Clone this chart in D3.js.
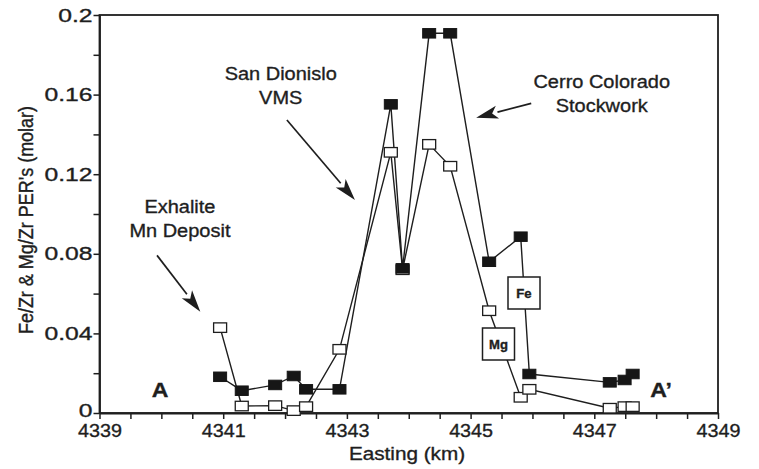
<!DOCTYPE html>
<html>
<head>
<meta charset="utf-8">
<script src="https://cdn.jsdelivr.net/npm/d3@7"></script>
<style>
  html, body { margin: 0; padding: 0; background: #fff; }
  svg { display: block; }
  text { font-family: "Liberation Sans", Arial, Helvetica, sans-serif; fill: #1e1e1e; stroke: #1e1e1e; stroke-width: 0.35px; }
</style>
</head>
<body>
<svg id="chart" width="759" height="469"></svg>
<script>
// Sample positions along the A–A' traverse (Easting, km)
const easting = [4340.95, 4341.30, 4341.84, 4342.14, 4342.34, 4342.88, 4343.71, 4343.90,
                 4344.33, 4344.67, 4345.30, 4345.81, 4345.95, 4347.25, 4347.49, 4347.62];
// Fe/Zr molar PER
const feZr = [0.0182, 0.0112, 0.0141, 0.0186, 0.0119, 0.0119, 0.1551, 0.0727,
              0.1908, 0.1908, 0.0760, 0.0886, 0.0196, 0.0154, 0.0166, 0.0196];
// Mg/Zr molar PER
const mgZr = [0.0429, 0.0035, 0.0037, 0.0012, 0.0032, 0.0320, 0.1310, 0.0720,
              0.1350, 0.1240, 0.0514, 0.0079, 0.0119, 0.0024, 0.0032, 0.0032];

const xTickLabels = [4339, 4341, 4343, 4345, 4347, 4349];
const yTickLabels = [0, 0.04, 0.08, 0.12, 0.16, 0.2];

// Annotations: text lines, anchor point and arrow (tail -> head) in data units
const notes = [
  { lines: ["Exhalite", "Mn Deposit"], at: [4340.3, 0.1005], from: [4339.93, 0.0792], to: [4340.63, 0.0509] },
  { lines: ["San Dionislo", "VMS"], at: [4341.93, 0.1673], from: [4342.03, 0.1472], to: [4343.13, 0.1070] },
  { lines: ["Cerro Colorado", "Stockwork"], at: [4347.12, 0.1633], from: [4345.98, 0.1556], to: [4345.09, 0.1484] }
];

const svg = d3.select("#chart");
const m = { left: 99.5, right: 718, top: 15, bottom: 413 };

const x = d3.scaleLinear().domain([4339, 4349]).range([m.left, m.right]);
const y = d3.scaleLinear().domain([0, 0.2]).range([m.bottom, m.top]);

// Horizontally widened text, placed at (px, py)
function label(px, py, str, size, anchor, sx, bold) {
  return svg.append("text")
    .attr("transform", `translate(${px},${py}) scale(${sx},1)`)
    .attr("text-anchor", anchor).attr("font-size", size)
    .attr("font-weight", bold ? "bold" : null)
    .text(str);
}

// Frame
svg.append("rect")
  .attr("x", m.left).attr("y", m.top)
  .attr("width", m.right - m.left).attr("height", m.bottom - m.top)
  .attr("fill", "none").attr("stroke", "#1e1e1e").attr("stroke-width", 1.8);

// X axis: ticks every 0.5 km, labels every 2 km
const xAxis = d3.axisBottom(x)
  .tickValues(d3.range(4339, 4349.01, 0.5))
  .tickSize(6).tickSizeOuter(0)
  .tickFormat(d => Number.isInteger(d) && xTickLabels.includes(d) ? d3.format("d")(d) : "");
const gx = svg.append("g").attr("transform", `translate(0,${m.bottom})`).call(xAxis);
gx.select(".domain").attr("stroke", "#1e1e1e").attr("stroke-width", 1.8);
gx.selectAll(".tick line").attr("stroke", "#1e1e1e").attr("stroke-width", 1.5);
gx.selectAll(".tick text").attr("font-size", 19).attr("dy", "0.8em")
  .attr("fill", "#1e1e1e").attr("font-family", null)
  .attr("transform", "scale(1.04,1)");

// Y axis: ticks every 0.02, labels every 0.04
const ysx = 1.3;
const yAxis = d3.axisLeft(y)
  .tickValues(d3.range(0, 0.2001, 0.02))
  .tickSize(6).tickSizeOuter(0)
  .tickFormat(d => {
    const lab = yTickLabels.find(v => Math.abs(v - d) < 1e-9);
    return lab === undefined ? "" : String(lab);
  });
const gy = svg.append("g").attr("transform", `translate(${m.left},0)`).call(yAxis);
gy.select(".domain").attr("stroke", "#1e1e1e").attr("stroke-width", 1.8);
gy.selectAll(".tick line").attr("stroke", "#1e1e1e").attr("stroke-width", 1.5);
gy.selectAll(".tick text").attr("font-size", 19).attr("x", -7 / ysx)
  .attr("fill", "#1e1e1e").attr("font-family", null)
  .attr("dy", d => d === 0 ? "0.2em" : "0.32em")
  .attr("transform", `scale(${ysx},1)`);

// Axis titles
label(407, 460, "Easting (km)", 18.5, "middle", 1.12);
svg.append("text")
  .attr("transform", "translate(33,220) scale(1.15,1) rotate(-90)")
  .attr("text-anchor", "middle").attr("font-size", 18)
  .text("Fe/Zr & Mg/Zr PER's (molar)");

const line = d3.line().x(d => x(d[0])).y(d => y(d[1]));
const mgPts = easting.map((e, i) => [e, mgZr[i]]);
const fePts = easting.map((e, i) => [e, feZr[i]]);

// Mg/Zr series (open squares)
svg.append("path").datum(mgPts).attr("d", line)
  .attr("fill", "none").attr("stroke", "#1e1e1e").attr("stroke-width", 1.4);
// Fe/Zr series (filled squares)
svg.append("path").datum(fePts).attr("d", line)
  .attr("fill", "none").attr("stroke", "#1e1e1e").attr("stroke-width", 1.4);

// Series tags sitting on the lines
function tag(str, cx, cy) {
  svg.append("rect").attr("x", cx - 16).attr("y", cy - 16).attr("width", 32).attr("height", 32)
    .attr("fill", "#fff").attr("stroke", "#1e1e1e").attr("stroke-width", 1.5);
  label(cx, cy + 4.5, str, 12.5, "middle", 1.05, true);
}
tag("Fe", 524, 293);
tag("Mg", 498.5, 344);

const mw = 13, mh = 9.5;
svg.append("g").selectAll("rect").data(mgPts).join("rect")
  .attr("x", d => x(d[0]) - mw / 2).attr("y", d => y(d[1]) - mh / 2)
  .attr("width", mw).attr("height", mh)
  .attr("fill", "#fff").attr("stroke", "#1e1e1e").attr("stroke-width", 1.3);
svg.append("g").selectAll("rect").data(fePts).join("rect")
  .attr("x", d => x(d[0]) - mw / 2).attr("y", d => y(d[1]) - mh / 2)
  .attr("width", mw).attr("height", mh)
  .attr("fill", "#161616").attr("stroke", "#161616").attr("stroke-width", 1);

// Annotation labels with arrows
notes.forEach(n => {
  n.lines.forEach((s, i) => label(x(n.at[0]), y(n.at[1]) + i * 23.5, s, 18.5, "middle", 1.08));
  const x0 = x(n.from[0]), y0 = y(n.from[1]), x1 = x(n.to[0]), y1 = y(n.to[1]);
  const ang = Math.atan2(y1 - y0, x1 - x0);
  const hl = 22, hw = 6.5;
  const bx = x1 - hl * Math.cos(ang), by = y1 - hl * Math.sin(ang);
  svg.append("line").attr("x1", x0).attr("y1", y0).attr("x2", bx).attr("y2", by)
    .attr("stroke", "#1e1e1e").attr("stroke-width", 1.7);
  const px = -Math.sin(ang), py = Math.cos(ang);
  svg.append("path")
    .attr("d", `M${x1},${y1}L${bx + px * hw},${by + py * hw}L${bx + 0.25 * hl * Math.cos(ang)},${by + 0.25 * hl * Math.sin(ang)}L${bx - px * hw},${by - py * hw}Z`)
    .attr("fill", "#1e1e1e");
});

// Section end labels
label(x(4339.98), 397, "A", 21, "middle", 1.1, true);
label(x(4348.08), 397, "A’", 21, "middle", 1.1, true);
</script>
</body>
</html>
